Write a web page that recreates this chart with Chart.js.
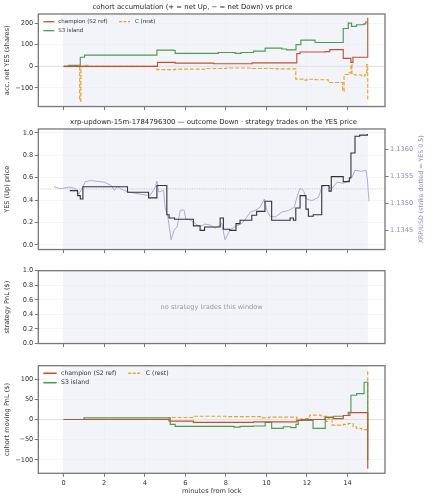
<!DOCTYPE html>
<html>
<head>
<meta charset="utf-8">
<script src="https://cdn.jsdelivr.net/npm/chart.js@4.4.1/dist/chart.umd.min.js"></script>
<style>
  body { margin: 0; background: #fff; width: 427px; height: 500px; position: relative; overflow: hidden; }
  canvas { position: absolute; left: 0; }
</style>
</head>
<body>
<canvas id="acc" width="427" height="112" style="top:0px"></canvas>
<canvas id="price" width="427" height="140" style="top:115px"></canvas>
<canvas id="strat" width="427" height="87" style="top:262px"></canvas>
<canvas id="pnl" width="427" height="143" style="top:357px"></canvas>
<script>
// ---- data (minutes from lock) ----
const xTicks = [0, 2, 4, 6, 8, 10, 12, 14]
const windowStart = 0
const windowEnd = 15

// panel 1: accumulated net YES shares
const accTicks = [-100, 0, 100, 200]
const champAccT = [0, 4.63, 5.5, 7.4, 9.3, 11.5, 11.66, 12.89, 13.13, 13.79, 14.17, 14.27, 15.0]
const champAccV = [0, 18, 15, 12, 16, 59, 66, 68, 77, 37, 18, 42, 224]
const s3AccT = [0, 0.25, 0.82, 1.03, 4.6, 5.42, 5.5, 7.63, 8.46, 8.75, 9.36, 9.94, 10.76, 11.0, 11.46, 11.7, 12.4, 13.79, 14.04, 14.2, 14.45, 14.81, 14.9, 15.0]
const s3AccV = [0, 5, 42, 52, 75, 73, 60, 64, 60, 64, 70, 84, 80, 76, 100, 121, 110, 175, 200, 185, 192, 196, 205, 205]
const restAccT = [0, 0.3, 0.79, 0.85, 1.0, 1.2, 4.6, 5.5, 7.0, 8.0, 9.3, 10.5, 11.45, 11.8, 12.0, 12.4, 13.05, 13.76, 13.83, 14.04, 14.17, 14.22, 14.38, 14.7, 14.86, 14.95, 15.0]
const restAccV = [0, 3, -161, 0, 5, 0, -15, -13, -10, -8, -10, -12, -59, -64, -60, -62, -75, -115, -38, -30, 8, -38, -40, -45, -38, 8, -158]

// panel 2: YES price and XRP/USD
const yesTicks = [0, 0.2, 0.4, 0.6, 0.8, 1.0]
const xrpTicks = [1.1345, 1.1350, 1.1355, 1.1360]
const strikeYes = 0.5
const yesT = [0.3, 0.69, 0.82, 0.95, 3.15, 4.19, 4.6, 5.09, 5.2, 5.47, 6.4, 6.73, 6.95, 7.72, 7.88, 8.2, 8.5, 8.7, 9.28, 9.52, 9.93, 10.26, 10.83, 11.17, 11.33, 11.45, 11.66, 11.95, 12.07, 12.31, 12.73, 13.09, 13.2, 13.79, 14.09, 14.17, 14.37, 14.6, 14.98]
const yesV = [0.485, 0.44, 0.41, 0.52, 0.47, 0.42, 0.53, 0.27, 0.24, 0.23, 0.17, 0.13, 0.16, 0.24, 0.14, 0.13, 0.19, 0.22, 0.265, 0.30, 0.39, 0.22, 0.22, 0.24, 0.22, 0.33, 0.44, 0.32, 0.256, 0.27, 0.53, 0.48, 0.61, 0.565, 0.60, 0.82, 0.97, 0.98, 0.99]
const xrpT = [-0.49, -0.18, 0.3, 0.58, 0.74, 0.9, 1.07, 1.32, 2.0, 2.35, 2.5, 2.66, 2.9, 3.2, 3.78, 4.1, 4.28, 4.52, 4.6, 4.68, 4.93, 5.0, 5.14, 5.3, 5.45, 5.6, 5.75, 5.94, 6.02, 6.27, 6.6, 6.77, 6.98, 7.23, 7.47, 7.8, 7.96, 8.2, 8.45, 8.78, 8.95, 9.2, 9.44, 9.69, 9.9, 10.02, 10.19, 10.44, 10.77, 11.1, 11.38, 11.5, 11.66, 11.82, 11.99, 12.24, 12.57, 12.73, 12.98, 13.23, 13.48, 13.81, 14.06, 14.22, 14.37, 14.7, 14.91, 14.98, 15.06]
const xrpV = [1.13531, 1.13527, 1.13530, 1.13527, 1.13517, 1.13527, 1.13540, 1.13542, 1.13539, 1.13533, 1.13524, 1.13531, 1.13525, 1.13521, 1.13517, 1.13515, 1.13515, 1.13530, 1.13541, 1.13521, 1.13524, 1.13493, 1.13475, 1.13433, 1.13451, 1.13457, 1.13487, 1.13488, 1.13472, 1.13469, 1.13460, 1.13458, 1.13462, 1.13460, 1.13454, 1.13463, 1.13433, 1.13451, 1.13457, 1.13463, 1.13470, 1.13484, 1.13487, 1.13493, 1.13508, 1.13487, 1.13476, 1.13475, 1.13484, 1.13487, 1.13493, 1.13511, 1.13528, 1.13524, 1.13508, 1.13505, 1.13511, 1.13530, 1.13533, 1.13527, 1.13539, 1.13537, 1.13542, 1.13548, 1.13561, 1.13559, 1.13561, 1.13545, 1.13504]

// panel 3: strategy PnL (empty)
const stratTicks = [0, 0.2, 0.4, 0.6, 0.8, 1.0]

// panel 4: cohort moving PnL ($)
const pnlTicks = [-100, -50, 0, 50, 100]
const champPnlT = [0, 5.2, 6.4, 9.36, 11.5, 11.74, 12.9, 13.3, 13.79, 14.12, 15.0]
const champPnlV = [0, -4, -7, -6, -2, 0, 5, 2, 10, 17, -122]
const s3PnlT = [0, 1.0, 5.26, 5.5, 8.4, 8.7, 9.36, 9.94, 10.26, 10.83, 11.2, 11.46, 11.57, 12.3, 12.9, 13.3, 13.8, 14.04, 14.17, 14.45, 14.82, 15.0]
const s3PnlV = [0, 4, -12, -17, -19, -17, -16, -7, -22, -18, -20, -12, -2, -22, 6, 8, 10, 18, 60, 64, 92, -100]
const restPnlT = [0, 5.2, 6.4, 8.0, 9.8, 10.13, 11.5, 11.83, 12.14, 12.7, 12.95, 13.05, 13.24, 13.79, 14.04, 14.28, 14.45, 14.7, 15.0]
const restPnlV = [0, 5, 8, 7, 4, 6, 1, 2, 11, 8, -5, 3, -14, -12, -10, -18, -22, -25, 121]

// ---- styling ----
const champColor = '#c4512d'
const s3Color = '#4f9b4f'
const restColor = '#e2a526'
const purple = '#ad9fd6'
const X_MIN = -1.25
const X_MAX = 15.85
const tickFont = { size: 6.6 }

Chart.defaults.font.family = '"DejaVu Sans", sans-serif'
Chart.defaults.color = '#333'
Chart.defaults.animation = false

function pts(ts, vs) {
    return ts.map((t, i) => ({ x: t, y: vs[i] }))
}

// chart.js 'before' = hold previous value until the next x (matplotlib "post")
function stepLine(label, ts, vs, color, dashed, axis) {
    return {
        label: label,
        data: pts(ts, vs),
        stepped: 'before',
        borderColor: color,
        borderWidth: 1.15,
        borderDash: dashed ? [4, 1.8] : [],
        pointRadius: 0,
        fill: false,
        yAxisID: axis || 'y',
    }
}

function minus(v) {
    return v < 0 ? '\u2212' + Math.abs(v) : '' + v
}

function xAxis(h, showLabels) {
    return {
        type: 'linear',
        min: X_MIN,
        max: X_MAX,
        afterBuildTicks: s => { s.ticks = xTicks.map(v => ({ value: v })) },
        afterFit: s => { s.height = h },
        ticks: { display: showLabels, font: tickFont, padding: 2.5, maxRotation: 0, color: '#333' },
        grid: { color: '#ececf0', lineWidth: 0.6, tickColor: '#555', tickLength: 3.5, tickWidth: 0.8 },
        border: { display: false },
        title: showLabels ? { display: true, text: 'minutes from lock', font: tickFont, color: '#333', padding: { top: 0, bottom: 4.5 } } : { display: false },
    }
}

function yAxis(min, max, ticks, fmt, title) {
    return {
        type: 'linear',
        position: 'left',
        min: min,
        max: max,
        afterBuildTicks: s => { s.ticks = ticks.map(v => ({ value: v })) },
        afterFit: s => { s.width = 38.3 },
        ticks: { font: tickFont, padding: 1.5, color: '#333', callback: fmt },
        grid: { color: '#ececf0', lineWidth: 0.6, tickColor: '#555', tickLength: 3.5, tickWidth: 0.8 },
        border: { display: false },
        title: { display: true, text: title, font: tickFont, color: '#333', padding: { top: 3.3, bottom: 0 } },
    }
}

function titleOpts(text) {
    return { display: true, text: text, font: { size: 6.9, weight: 'normal' }, color: '#222', padding: { top: 3.1, bottom: 2.6 } }
}

// shaded lock window + frame + reference lines
function decor(hline) {
    return {
        id: 'decor',
        beforeDraw(chart) {
            const { ctx, chartArea: a, scales } = chart
            const x0 = scales.x.getPixelForValue(windowStart)
            const x1 = scales.x.getPixelForValue(windowEnd)
            ctx.save()
            ctx.fillStyle = '#f3f4fa'
            ctx.fillRect(x0, a.top, x1 - x0, a.bottom - a.top)
            ctx.restore()
        },
        beforeDatasetsDraw(chart) {
            if (!hline) return
            const { ctx, chartArea: a, scales } = chart
            const y = scales.y.getPixelForValue(hline.value)
            ctx.save()
            ctx.strokeStyle = hline.color
            ctx.lineWidth = hline.width
            ctx.setLineDash(hline.dash || [])
            ctx.beginPath()
            ctx.moveTo(a.left, y)
            ctx.lineTo(a.right, y)
            ctx.stroke()
            ctx.restore()
        },
        afterDraw(chart) {
            const { ctx, chartArea: a } = chart
            ctx.save()
            ctx.strokeStyle = '#777'
            ctx.lineWidth = 1.3
            ctx.strokeRect(a.left, a.top, a.right - a.left, a.bottom - a.top)
            ctx.restore()
        },
    }
}

function cohortLegend(cfg) {
    return {
        id: 'cohortLegend',
        afterDatasetsDraw(chart) {
            const { ctx, chartArea: a } = chart
            ctx.save()
            ctx.font = cfg.font + 'px "DejaVu Sans"'
            ctx.textBaseline = 'middle'
            cfg.items.forEach(it => {
                const col = cfg.cols[it.col]
                const y = a.top + cfg.rows[it.row]
                ctx.strokeStyle = it.color
                ctx.lineWidth = cfg.lw
                ctx.setLineDash(it.dashed ? [3, 1.5] : [])
                ctx.beginPath()
                ctx.moveTo(a.left + col[0], y)
                ctx.lineTo(a.left + col[1], y)
                ctx.stroke()
                ctx.fillStyle = '#333'
                ctx.fillText(it.label, a.left + col[2], y)
            })
            ctx.restore()
        },
    }
}

const legendItems = [
    { label: 'champion (S2 ref)', color: champColor, col: 0, row: 0 },
    { label: 'S3 island', color: s3Color, col: 0, row: 1 },
    { label: 'C (rest)', color: restColor, col: 1, row: 0, dashed: true },
]

// ---- panel 1 ----
new Chart(document.getElementById('acc'), {
    type: 'line',
    data: {
        datasets: [
            stepLine('champion (S2 ref)', champAccT, champAccV, champColor),
            stepLine('S3 island', s3AccT, s3AccV, s3Color),
            stepLine('C (rest)', restAccT, restAccV, restColor, true),
        ],
    },
    options: {
        responsive: false,
        layout: { padding: { left: 0, right: 42, top: 0, bottom: 0 } },
        plugins: {
            legend: { display: false },
            tooltip: { enabled: false },
            title: titleOpts('cohort accumulation (+ = net Up, \u2212 = net Down) vs price'),
        },
        scales: {
            x: xAxis(3.7, false),
            y: yAxis(-186, 242, accTicks, minus, 'acc. net YES (shares)'),
        },
    },
    plugins: [
        decor({ value: 0, color: '#dcdcdc', width: 0.8 }),
        cohortLegend({ font: 5.5, lw: 1.3, rows: [7.7, 16.7], cols: [[5, 16, 20], [80.7, 91.7, 96.7]], items: legendItems }),
    ],
})

// ---- panel 2 ----
const priceYRight = {
    type: 'linear',
    position: 'right',
    min: 1.13415,
    max: 1.13637,
    afterBuildTicks: s => { s.ticks = xrpTicks.map(v => ({ value: v })) },
    afterFit: s => { s.width = 42 },
    ticks: { font: tickFont, padding: 1.5, color: '#9a84c8', callback: v => v.toFixed(4) },
    grid: { drawOnChartArea: false, tickColor: '#555', tickLength: 3.5, tickWidth: 0.8 },
    border: { display: false },
}

const rightTitle = {
    id: 'rightTitle',
    afterDraw(chart) {
        const { ctx, chartArea: a } = chart
        ctx.save()
        ctx.translate(421.5, (a.top + a.bottom) / 2)
        ctx.rotate(-Math.PI / 2)
        ctx.font = '6.3px "DejaVu Sans"'
        ctx.fillStyle = '#9a84c8'
        ctx.textAlign = 'center'
        ctx.textBaseline = 'middle'
        ctx.fillText('XRP/USD (strike dotted = YES 0.5)', 0, 0)
        ctx.restore()
    },
}

new Chart(document.getElementById('price'), {
    type: 'line',
    data: {
        datasets: [
            {
                label: 'YES',
                data: pts(yesT, yesV),
                stepped: 'before',
                borderColor: '#333333',
                borderWidth: 1.1,
                pointRadius: 0,
                yAxisID: 'y',
            },
            {
                label: 'XRP/USD',
                data: pts(xrpT, xrpV),
                borderColor: purple,
                borderWidth: 0.9,
                pointRadius: 0,
                tension: 0,
                yAxisID: 'y1',
            },
        ],
    },
    options: {
        responsive: false,
        layout: { padding: 0 },
        plugins: {
            legend: { display: false },
            tooltip: { enabled: false },
            title: titleOpts('xrp-updown-15m-1784796300 \u2014 outcome Down \u00b7 strategy trades on the YES price'),
        },
        scales: {
            x: xAxis(4, false),
            y: yAxis(-0.041, 1.035, yesTicks, v => v.toFixed(1), 'YES (Up) price'),
            y1: priceYRight,
        },
    },
    plugins: [decor({ value: strikeYes, color: '#b5b5b5', width: 0.8, dash: [1, 1.4] }), rightTitle],
})

// ---- panel 3 ----
const noTrades = {
    id: 'noTrades',
    afterDraw(chart) {
        const { ctx, chartArea: a } = chart
        ctx.save()
        ctx.font = '6.6px "DejaVu Sans"'
        ctx.fillStyle = '#9a9a9a'
        ctx.textAlign = 'center'
        ctx.textBaseline = 'middle'
        ctx.fillText('no strategy trades this window', (a.left + a.right) / 2, (a.top + a.bottom) / 2)
        ctx.restore()
    },
}

new Chart(document.getElementById('strat'), {
    type: 'line',
    data: { datasets: [] },
    options: {
        responsive: false,
        layout: { padding: { left: 0, right: 42, top: 8.7, bottom: 0 } },
        plugins: { legend: { display: false }, tooltip: { enabled: false } },
        scales: {
            x: xAxis(4, false),
            y: yAxis(0, 1, stratTicks, v => v.toFixed(1), 'strategy PnL ($)'),
        },
    },
    plugins: [decor(null), noTrades],
})

// ---- panel 4 ----
new Chart(document.getElementById('pnl'), {
    type: 'line',
    data: {
        datasets: [
            stepLine('champion (S2 ref)', champPnlT, champPnlV, champColor),
            stepLine('S3 island', s3PnlT, s3PnlV, s3Color),
            stepLine('C (rest)', restPnlT, restPnlV, restColor, true),
        ],
    },
    options: {
        responsive: false,
        layout: { padding: { left: 0, right: 42, top: 8.7, bottom: 0 } },
        plugins: { legend: { display: false }, tooltip: { enabled: false } },
        scales: {
            x: xAxis(26.7, true),
            y: yAxis(-133, 133, pnlTicks, minus, 'cohort moving PnL ($)'),
        },
    },
    plugins: [
        decor({ value: 0, color: '#dcdcdc', width: 0.8 }),
        cohortLegend({ font: 6.2, lw: 1.6, rows: [7.6, 17], cols: [[5, 18.4, 22.7], [90, 101.7, 107.4]], items: legendItems }),
    ],
})
</script>
</body>
</html>
